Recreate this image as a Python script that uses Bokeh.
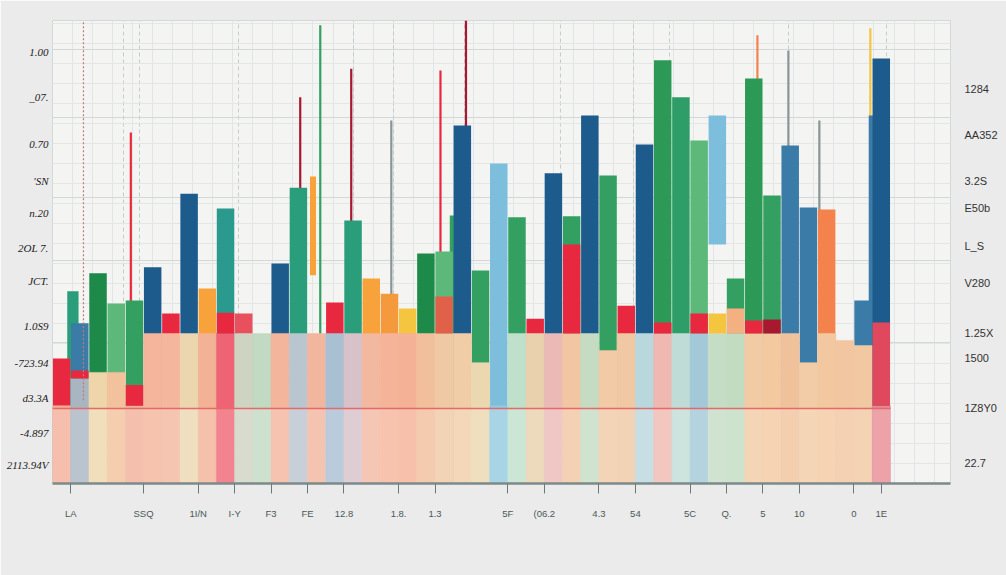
import numpy as np
from bokeh.plotting import figure
from bokeh.models import Range1d, FixedTicker, LinearAxis, ColumnDataSource
from bokeh.embed import file_html
from bokeh.resources import INLINE

# ---------------- data ----------------
N = 46
slot = list(range(N))
pale_top = [16.8, 22.7, 24.0, 24.0, 16.8, 32.4, 32.4, 32.4, 32.4, 32.4,
            32.4, 32.4, 32.4, 32.4, 32.4, 32.4, 32.4, 32.4, 32.4, 32.4,
            32.4, 32.4, 32.4, 26.1, 16.8, 32.4, 32.4, 32.4, 32.4, 32.4,
            28.7, 32.4, 32.4, 32.4, 32.4, 32.4, 32.4, 32.4, 32.4, 32.4,
            32.4, 26.1, 32.4, 30.9, 29.8, 16.8]
main_top = [27.0, 34.6, 45.4, 38.9, 39.5, 46.7, 36.7, 62.6, 42.1, 59.4,
            36.7, 0.0, 47.5, 63.9, 0.0, 39.1, 56.8, 44.3, 41.0, 37.8,
            49.7, 50.1, 77.3, 46.0, 69.1, 57.5, 35.6, 67.0, 57.7, 79.5,
            66.5, 38.4, 73.2, 91.4, 83.4, 74.1, 79.5, 44.3, 87.5, 62.2,
            73.0, 59.6, 59.2, 0.0, 39.5, 91.8]
main_base = [0, 0, 0, 0, 0, 0, 0, 0, 0, 0,
             0, 0, 0, 0, 0, 0, 0, 0, 0, 0,
             0, 0, 0, 0, 0, 0, 0, 0, 0, 0,
             0, 0, 0, 0, 0, 0, 51.6, 0, 0, 0,
             0, 0, 0, 0, 0, 0]
main_key = ["R", "SB", "DG", "LG", "G", "DB", "R", "DB", "O", "T",
            "PR", "G", "DB", "TG", "G", "R", "TG", "O", "O2", "Y",
            "DG", "LG", "DB", "G", "LB", "G", "R", "DB", "G", "DB",
            "G", "R", "DB", "G2", "G3", "LG", "LB", "G", "G2", "G",
            "SB", "SB", "OR", "G", "SB", "DB"]
cap_height = [0, 1.7, 0, 0, 4.5, 0, 0, 0, 0, 4.5,
              0, 0, 0, 0, 0, 0, 0, 0, 0, 0,
              0, 8.0, 0, 0, 0, 0, 0, 0, 19.2, 0,
              0, 0, 0, 2.4, 0, 4.3, 4.3, 5.4, 2.8, 3.0,
              0, 0, 0, 0, 0, 18.0]
cap_key = ["R", "R", "R", "R", "R", "R", "R", "R", "R", "R",
           "R", "R", "R", "R", "R", "R", "R", "R", "R", "R",
           "R", "OR2", "R", "R", "R", "R", "R", "R", "R", "R",
           "R", "R", "R", "R", "R", "R", "Y", "PO", "R", "DR",
           "R", "R", "R", "R", "R", "PK"]
sec_slot = [1, 22, 45]
sec_top = [41.5, 57.9, 79.5]
sec_key = ["TG", "G", "SB"]
spike_pos = [3.8, 13.1, 13.8, 14.2, 15.9, 18.1, 20.8, 22.2, 38.2, 39.9, 41.6, 44.4]
spike_base = [0, 0, 45.0, 0, 0, 0, 0, 0, 0, 0, 0, 0]
spike_top = [75.8, 83.4, 66.3, 99.0, 89.6, 78.4, 89.2, 100.0, 96.8, 93.5, 78.4, 98.3]
spike_key = ["R", "DR", "O", "G", "DR", "GR", "R", "DR", "OR", "GR", "GR", "Y"]
threshold = 16.2

left_ticks = [93.1, 83.4, 73.4, 65.4, 58.5, 50.8, 43.8, 34.1, 26.1, 18.4, 11.0, 3.9]
left_labels = ["1.00", "_07.", "0.70", "'SN", "n.20", "2OL 7.", "JCT.", "1.0S9",
               "-723.94", "d3.3A", "-4.897", "2113.94V"]
right_ticks = [85.3, 75.2, 65.4, 59.6, 51.4, 43.2, 32.4, 27.0, 16.2, 4.5]
right_labels = ["1284", "AA352", "3.2S", "E50b", "L_S", "V280", "1.25X", "1500", "1Z8Y0", "22.7"]
bottom_ticks = [0.5, 4.5, 7.5, 9.5, 11.5, 13.5, 15.5, 18.5, 20.5, 24.5,
                26.5, 29.5, 31.5, 34.5, 36.5, 38.5, 40.5, 43.5, 45.0]
bottom_labels = ["LA", "SSQ", "1I/N", "I-Y", "F3", "FE", "12.8", "1.8.", "1.3", "5F",
                 "(06.2", "4.3", "54", "5C", "Q.", "5", "10", "0", "1E"]
xgrid_pos = [3.4, 4.3, 9.7, 16.0, 18.2, 22.1, 27.4, 31.4, 33.4, 39.9, 45.3]
marker_pos = 1.2

# ---------------- styles ----------------
palette = {
    "R": "#e8283e", "PR": "#e8505e", "DR": "#a8182e", "PK": "#e0485e",
    "DB": "#1d5b8c", "SB": "#3b7ba8", "LB": "#7cbedb",
    "DG": "#1e8a4a", "G": "#33a062", "G2": "#2c9a56", "G3": "#2e9d68",
    "TG": "#2a9d7a", "T": "#2b9a8e", "LG": "#5cb97a",
    "O": "#f7a23a", "O2": "#f59a3c", "OR": "#f4824c", "OR2": "#e0604a",
    "Y": "#f6c540", "PO": "#f4b080", "GR": "#8a9696",
}
pale_color = ["#f4ae98", "#a9b6c2", "#eed6aa", "#f2c29c", "#f3b09a", "#f4b59c", "#f4b79e",
              "#ebd6b0", "#f3b296", "#ef6474", "#cfd3c2", "#c2d9c2", "#f3b59c", "#b9c5cf",
              "#f2b69e", "#a9bfd2", "#d6c2c8", "#f2b8a0", "#f5b49a", "#f4b196", "#f2bf9c",
              "#efc9a4", "#f1cda7", "#ecd8b0", "#93cbe0", "#bfe0ca", "#e9d1ad", "#ebbab6",
              "#f2c6a2", "#c5dcc2", "#f2caa6", "#f0c8a4", "#b9d8de", "#efb9b1", "#c0dcd6",
              "#a3c9d8", "#c5dcc5", "#c1dcc1", "#f2cba4", "#f3c9a0", "#f0c29c", "#f2cca6",
              "#f3c8a0", "#f2c6a0", "#f1c8a2", "#e98a94"]

p = figure(width=1006, height=575, x_range=Range1d(-0.5, 48.8), y_range=Range1d(0, 100),
           output_backend="svg", toolbar_location=None,
           min_border_left=52, min_border_right=56, min_border_top=20, min_border_bottom=92)
p.background_fill_color = "#f4f4f3"
p.border_fill_color = "#ebebeb"
p.outline_line_color = "#d3d8d8"

# grids
p.xgrid.ticker = FixedTicker(ticks=xgrid_pos, minor_ticks=list(np.arange(-0.5, 48.8, 1.1)))
p.xgrid.grid_line_color = "#c4cccc"
p.xgrid.grid_line_dash = "4 3"
p.xgrid.minor_grid_line_color = "#e2e5e5"
p.ygrid.ticker = FixedTicker(ticks=[30.5, 48.2, 61.8, 79.0, 93.7],
                             minor_ticks=list(np.arange(0, 100, 4.32)))
p.ygrid.grid_line_color = "#d2d8d8"
p.ygrid.minor_grid_line_color = "#e4e6e6"

# spikes
sp = ColumnDataSource(dict(x=spike_pos, y0=spike_base, y1=spike_top,
                           c=[palette[k] for k in spike_key],
                           w=[6 if k == "O" else 2.2 for k in spike_key]))
p.segment(x0="x", y0="y0", x1="x", y1="y1", color="c", line_width="w", source=sp)

# secondary bars
ss = ColumnDataSource(dict(x=[s - 0.38 for s in sec_slot], top=sec_top,
                           c=[palette[k] for k in sec_key]))
p.vbar(x="x", width=0.62, bottom=0, top="top", fill_color="c", line_color=None, source=ss)

# main bars
ms = ColumnDataSource(dict(x=slot, bottom=main_base, top=main_top,
                           c=[palette[k] for k in main_key]))
p.vbar(x="x", width=0.96, bottom="bottom", top="top", fill_color="c", line_color=None, source=ms)

# pale bars
ps = ColumnDataSource(dict(x=slot, top=pale_top, c=pale_color))
p.vbar(x="x", width=1.0, bottom=0, top="top", fill_color="c", line_color="c",
       line_width=0.5, source=ps)

# caps
cs = ColumnDataSource(dict(x=slot, bottom=pale_top,
                           top=[a + b for a, b in zip(pale_top, cap_height)],
                           c=[palette[k] for k in cap_key]))
p.vbar(x="x", width=0.96, bottom="bottom", top="top", fill_color="c", line_color=None, source=cs)

# washed lower band and threshold line
p.quad(left=-0.5, right=N - 0.5, bottom=0, top=threshold, fill_color="white",
       fill_alpha=0.2, line_color=None)
p.segment(x0=-0.5, y0=threshold, x1=N - 0.5, y1=threshold, line_color="#e26a6a", line_width=1.5)
p.segment(x0=marker_pos, y0=18, x1=marker_pos, y1=100, line_color="#c07a7a",
          line_dash="2 2", line_width=1.2)

# left axis
ya = p.yaxis[0]
ya.ticker = FixedTicker(ticks=left_ticks)
ya.major_label_overrides = dict(zip(left_ticks, left_labels))
ya.axis_line_color = None
ya.major_tick_line_color = None
ya.minor_tick_line_color = None
ya.major_tick_in = 0
ya.major_tick_out = 0
ya.major_label_standoff = 4
ya.major_label_text_font = "Liberation Serif"
ya.major_label_text_font_style = "italic"
ya.major_label_text_font_size = "11px"
ya.major_label_text_color = "#222222"

# right axis
ra = LinearAxis(ticker=FixedTicker(ticks=right_ticks))
ra.major_label_overrides = dict(zip(right_ticks, right_labels))
ra.axis_line_color = None
ra.major_tick_line_color = None
ra.minor_tick_line_color = None
ra.major_tick_in = 0
ra.major_tick_out = 0
ra.major_label_standoff = 14
ra.major_label_text_font = "Liberation Sans"
ra.major_label_text_font_size = "11px"
ra.major_label_text_color = "#333333"
p.add_layout(ra, "right")

# bottom axis
xa = p.xaxis[0]
xa.ticker = FixedTicker(ticks=bottom_ticks)
xa.major_label_overrides = dict(zip(bottom_ticks, bottom_labels))
xa.axis_line_color = "#7d8a8a"
xa.axis_line_width = 2.5
xa.major_tick_line_color = "#6a7a7a"
xa.major_tick_in = 0
xa.major_tick_out = 10
xa.minor_tick_line_color = None
xa.major_label_standoff = 14
xa.major_label_text_font = "Liberation Sans"
xa.major_label_text_font_size = "9.5px"
xa.major_label_text_color = "#4a5858"

open("out.html", "w").write(file_html(p, INLINE))
